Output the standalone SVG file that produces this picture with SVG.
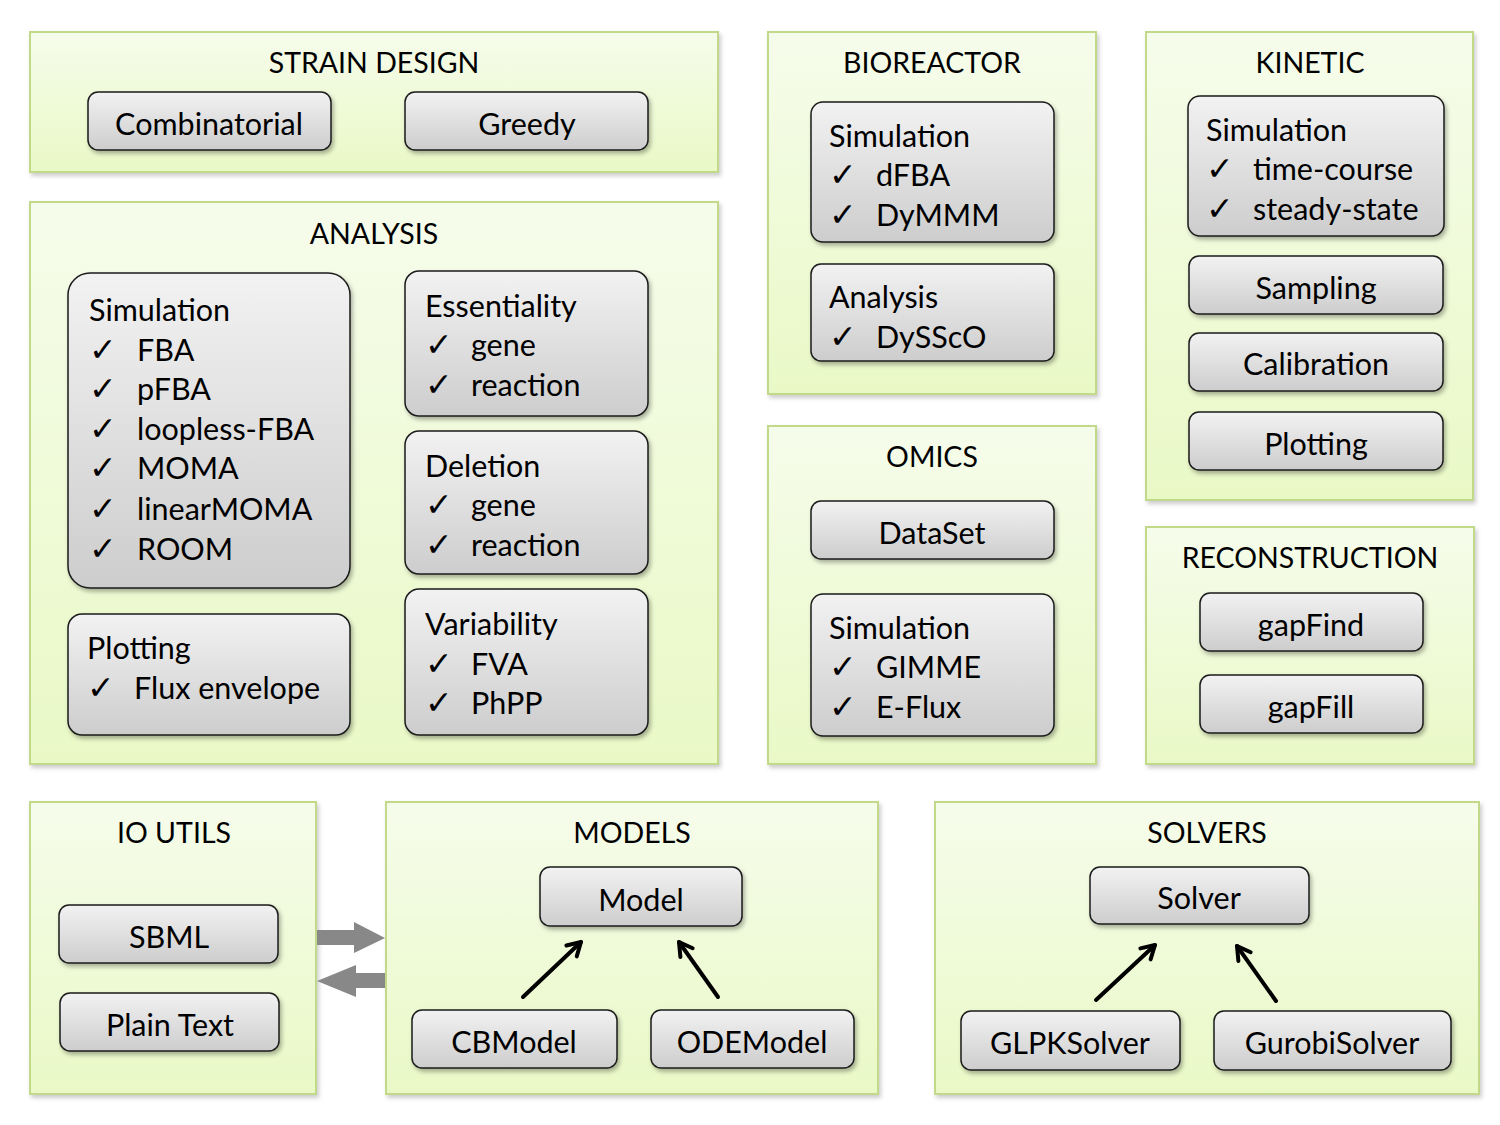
<svg xmlns="http://www.w3.org/2000/svg" width="1500" height="1125" viewBox="0 0 1500 1125">
<defs>
<linearGradient id="gPanel" x1="0" y1="0" x2="0" y2="1">
<stop offset="0" stop-color="#f6fceb"/>
<stop offset="1" stop-color="#e9f9c6"/>
</linearGradient>
<linearGradient id="gBox" x1="0" y1="0" x2="0" y2="1">
<stop offset="0" stop-color="#f2f2f2"/>
<stop offset="1" stop-color="#cdcdcd"/>
</linearGradient>
<filter id="sh" x="-10%" y="-10%" width="120%" height="130%">
<feDropShadow dx="2" dy="3" stdDeviation="2" flood-color="#000" flood-opacity="0.3"/>
</filter>
<filter id="shp" x="-5%" y="-5%" width="110%" height="110%">
<feDropShadow dx="2" dy="3" stdDeviation="2" flood-color="#000" flood-opacity="0.2"/>
</filter>
<marker id="ah" viewBox="0 0 20 20" refX="17" refY="10" markerWidth="20" markerHeight="20" markerUnits="userSpaceOnUse" orient="auto" overflow="visible">
<path d="M4,2.5 L17,10 L4,17.5" fill="none" stroke="#000" stroke-width="4" stroke-linecap="round" stroke-linejoin="round"/>
</marker>
</defs>
<style>
.panel{fill:url(#gPanel);stroke:#c3d98a;stroke-width:2;filter:url(#shp)}
.box{fill:url(#gBox);stroke:#1a1a1a;stroke-width:1.5;filter:url(#sh)}
text{font-family:Lato,"Open Sans","DejaVu Sans",sans-serif;font-size:30.5px;fill:#000}
.h{font-size:28.5px}
.t{text-anchor:middle}
.c{font-family:"DejaVu Sans",sans-serif;font-size:33px}
.arr{stroke:#000;stroke-width:4;fill:none;stroke-linecap:round;marker-end:url(#ah)}
</style>

<g id="strain-design">
<rect class="panel" x="30" y="32" width="688" height="140"/>
<text class="t h" x="374" y="73">STRAIN DESIGN</text>
<g id="combinatorial"><rect class="box" x="88" y="92" width="243" height="58" rx="10"/><text class="t" x="209" y="135">Combinatorial</text></g>
<g id="greedy"><rect class="box" x="405" y="92" width="243" height="58" rx="10"/><text class="t" x="527" y="135">Greedy</text></g>
</g>

<g id="analysis">
<rect class="panel" x="30" y="202" width="688" height="562"/>
<text class="t h" x="374" y="244">ANALYSIS</text>
<g id="analysis-simulation">
<rect class="box" x="68" y="273" width="282" height="315" rx="22"/>
<text x="89" y="321">Simulation</text>
<text class="c" x="89" y="361">✓</text><text x="137" y="361">FBA</text>
<text class="c" x="89" y="400">✓</text><text x="137" y="400">pFBA</text>
<text class="c" x="89" y="440">✓</text><text x="137" y="440">loopless-FBA</text>
<text class="c" x="89" y="479">✓</text><text x="137" y="479">MOMA</text>
<text class="c" x="89" y="520">✓</text><text x="137" y="520">linearMOMA</text>
<text class="c" x="89" y="560">✓</text><text x="137" y="560">ROOM</text>
</g>
<g id="analysis-plotting">
<rect class="box" x="68" y="614" width="282" height="121" rx="14"/>
<text x="87" y="659">Plotting</text>
<text class="c" x="87" y="699">✓</text><text x="134" y="699">Flux envelope</text>
</g>
<g id="essentiality">
<rect class="box" x="405" y="271" width="243" height="145" rx="14"/>
<text x="425" y="317">Essentiality</text>
<text class="c" x="425" y="356">✓</text><text x="471" y="356">gene</text>
<text class="c" x="425" y="396">✓</text><text x="471" y="396">reaction</text>
</g>
<g id="deletion">
<rect class="box" x="405" y="431" width="243" height="143" rx="14"/>
<text x="425" y="477">Deletion</text>
<text class="c" x="425" y="516">✓</text><text x="471" y="516">gene</text>
<text class="c" x="425" y="556">✓</text><text x="471" y="556">reaction</text>
</g>
<g id="variability">
<rect class="box" x="405" y="589" width="243" height="146" rx="14"/>
<text x="425" y="635">Variability</text>
<text class="c" x="425" y="675">✓</text><text x="471" y="675">FVA</text>
<text class="c" x="425" y="714">✓</text><text x="471" y="714">PhPP</text>
</g>
</g>

<g id="bioreactor">
<rect class="panel" x="768" y="32" width="328" height="362"/>
<text class="t h" x="932" y="73">BIOREACTOR</text>
<g id="bioreactor-simulation">
<rect class="box" x="811" y="102" width="243" height="140" rx="12"/>
<text x="829" y="147">Simulation</text>
<text class="c" x="829" y="186">✓</text><text x="876" y="186">dFBA</text>
<text class="c" x="829" y="226">✓</text><text x="876" y="226">DyMMM</text>
</g>
<g id="bioreactor-analysis">
<rect class="box" x="811" y="264" width="243" height="97" rx="10"/>
<text x="829" y="308">Analysis</text>
<text class="c" x="829" y="348">✓</text><text x="876" y="348">DySScO</text>
</g>
</g>

<g id="kinetic">
<rect class="panel" x="1146" y="32" width="327" height="468"/>
<text class="t h" x="1310" y="73">KINETIC</text>
<g id="kinetic-simulation">
<rect class="box" x="1188" y="96" width="256" height="140" rx="12"/>
<text x="1206" y="141">Simulation</text>
<text class="c" x="1206" y="180">✓</text><text x="1253" y="180">time-course</text>
<text class="c" x="1206" y="220">✓</text><text x="1253" y="220">steady-state</text>
</g>
<g id="sampling"><rect class="box" x="1189" y="256" width="254" height="58" rx="10"/><text class="t" x="1316" y="299">Sampling</text></g>
<g id="calibration"><rect class="box" x="1189" y="333" width="254" height="58" rx="10"/><text class="t" x="1316" y="375">Calibration</text></g>
<g id="kinetic-plotting"><rect class="box" x="1189" y="412" width="254" height="58" rx="10"/><text class="t" x="1316" y="455">Plotting</text></g>
</g>

<g id="omics">
<rect class="panel" x="768" y="426" width="328" height="338"/>
<text class="t h" x="932" y="467">OMICS</text>
<g id="dataset"><rect class="box" x="811" y="501" width="243" height="58" rx="10"/><text class="t" x="932" y="544">DataSet</text></g>
<g id="omics-simulation">
<rect class="box" x="811" y="594" width="243" height="142" rx="12"/>
<text x="829" y="639">Simulation</text>
<text class="c" x="829" y="678">✓</text><text x="876" y="678">GIMME</text>
<text class="c" x="829" y="718">✓</text><text x="876" y="718">E-Flux</text>
</g>
</g>

<g id="reconstruction">
<rect class="panel" x="1146" y="527" width="328" height="237"/>
<text class="t h" x="1310" y="568">RECONSTRUCTION</text>
<g id="gapfind"><rect class="box" x="1200" y="593" width="223" height="58" rx="10"/><text class="t" x="1311" y="636">gapFind</text></g>
<g id="gapfill"><rect class="box" x="1200" y="675" width="223" height="58" rx="10"/><text class="t" x="1311" y="718">gapFill</text></g>
</g>

<g id="io-utils">
<rect class="panel" x="30" y="802" width="286" height="292"/>
<text class="t h" x="174" y="843">IO UTILS</text>
<g id="sbml"><rect class="box" x="59" y="905" width="219" height="58" rx="10"/><text class="t" x="169" y="948">SBML</text></g>
<g id="plain-text"><rect class="box" x="60" y="993" width="219" height="58" rx="10"/><text class="t" x="170" y="1036">Plain Text</text></g>
</g>

<g id="models">
<rect class="panel" x="386" y="802" width="492" height="292"/>
<text class="t h" x="632" y="843">MODELS</text>
<g id="model"><rect class="box" x="540" y="867" width="202" height="59" rx="10"/><text class="t" x="641" y="911">Model</text></g>
<g id="cbmodel"><rect class="box" x="412" y="1010" width="205" height="58" rx="10"/><text class="t" x="514" y="1053">CBModel</text></g>
<g id="odemodel"><rect class="box" x="651" y="1010" width="203" height="58" rx="10"/><text class="t" x="752" y="1053">ODEModel</text></g>
</g>

<g id="solvers">
<rect class="panel" x="935" y="802" width="544" height="292"/>
<text class="t h" x="1207" y="843">SOLVERS</text>
<g id="solver"><rect class="box" x="1090" y="867" width="219" height="57" rx="10"/><text class="t" x="1199" y="909">Solver</text></g>
<g id="glpksolver"><rect class="box" x="961" y="1011" width="219" height="59" rx="10"/><text class="t" x="1070" y="1054">GLPKSolver</text></g>
<g id="gurobisolver"><rect class="box" x="1214" y="1011" width="237" height="59" rx="10"/><text class="t" x="1332" y="1054">GurobiSolver</text></g>
</g>

<g id="connectors">
<polygon points="317,930 354,930 354,922 385,938 354,953 354,945 317,945" fill="#888"/>
<polygon points="385,973 356,973 356,965 317,981 356,997 356,988 385,988" fill="#888"/>
<line class="arr" x1="523" y1="997" x2="581" y2="942"/>
<line class="arr" x1="718" y1="997" x2="679" y2="942"/>
<line class="arr" x1="1096" y1="1000" x2="1155" y2="945"/>
<line class="arr" x1="1276" y1="1001" x2="1237" y2="946"/>
</g>
</svg>
